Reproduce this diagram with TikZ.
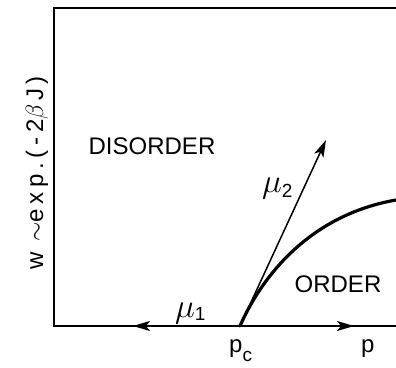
\documentclass[tikz,border=0pt]{standalone}
\usepackage{fontspec}
\setmainfont{Liberation Sans}
\usetikzlibrary{arrows.meta, positioning}

\newcommand{\lowered}[2]{\raisebox{-#1}{\fontsize{19}{20}\selectfont #2}}
\newcommand{\bigmu}{\scalebox{1.35}{$\mu$}}

\begin{document}
\begin{tikzpicture}[
    x=1pt, y=-1pt,
    frame/.style={line width=1.4pt},
    region/.style={font=\fontsize{24}{28}\selectfont, inner sep=0pt},
    arrow/.style={-{Stealth[length=17pt, width=10pt, inset=4pt]}, line width=1.5pt},
    boundary/.style={line width=3.2pt, line cap=round}
]
    \useasboundingbox (0,0) rectangle (396,367);
    \coordinate (corner) at (54,326);
    \coordinate (pc) at (240,326);
    \coordinate (left) at (133,326);
    \coordinate (right) at (354,326);
    \coordinate (up) at (326,140);

    % frame and axis
    \draw[frame] (396,8) -- (54,8) -- (corner) -- (396,326);

    % scaling directions
    \draw[arrow] (pc) -- (left);
    \draw[arrow] (pc) -- (right);
    \draw[arrow] (pc) -- (up);

    % phase boundary
    \draw[boundary] (pc) .. controls (262,276) and (310,215) .. (396,200);

    \node[region] (disorder) at (152,146) {DISORDER};
    \node[region] (order) at (338,284) {ORDER};
    \node[region, anchor=base west] (mu1) at (175,317) {\bigmu\lowered{3pt}{1}};
    \node[region, anchor=base west] (mu2) at (262,192) {\bigmu\lowered{5pt}{2}};
    \node[region, anchor=base west] (pclabel) at (229,352) {p\lowered{9pt}{c}};
    \node[region, anchor=base west] (plabel) at (361,352) {p};
    \node[region, rotate=90, anchor=base] (wlabel) at (43,173)
        {\addfontfeature{LetterSpace=20}w\;\,$\sim$exp.(-2$\beta$\,J\,)};
\end{tikzpicture}
\end{document}
